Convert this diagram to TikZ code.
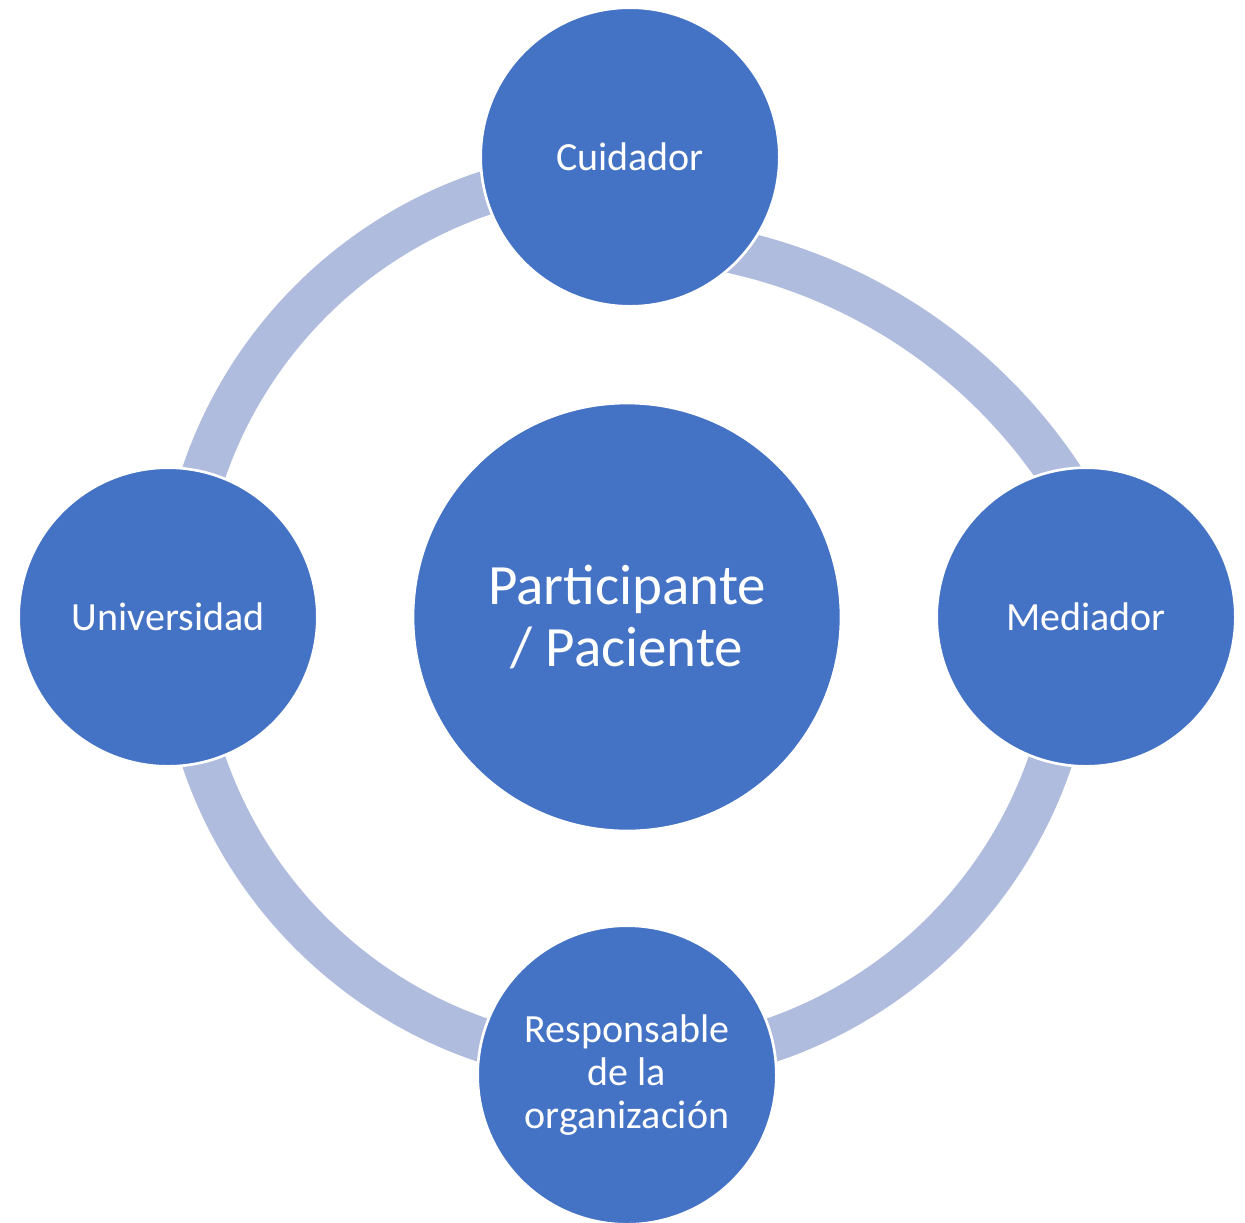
\documentclass[tikz,border=0pt]{standalone}
\usepackage{fontspec}
\setmainfont{Carlito}
\definecolor{nodeblue}{HTML}{4472C4}
\definecolor{ringblue}{HTML}{B0BCDE}
\begin{document}
\begin{tikzpicture}[x=0.75pt,y=-0.75pt,
  disc/.style={circle, fill=nodeblue, draw=white, line width=2pt, text=white,
    inner sep=0pt, align=center},
  outerdisc/.style={disc, minimum size=224pt,
    font=\fontsize{30}{32}\selectfont},
  hubdisc/.style={disc, minimum size=321pt,
    font=\fontsize{42.75}{46.5}\selectfont},
  ring/.style={draw=ringblue, line width=33pt}]
\useasboundingbox (0,0) rectangle (1245,1222);
\coordinate (ringc) at (627,617);
\coordinate (trc) at (617.4,771.8);
% connecting arcs (drawn below the discs)
\draw[ring] ([shift={(180:335.25pt)}]ringc) arc[start angle=180, end angle=90, radius=335.25pt];
\draw[ring] ([shift={(180:335.25pt)}]ringc) arc[start angle=180, end angle=270, radius=335.25pt];
\draw[ring] ([shift={(270:335.25pt)}]ringc) arc[start angle=270, end angle=360, radius=335.25pt];
\draw[ring] ([shift={(80:399.75pt)}]trc) arc[start angle=80, end angle=30, radius=399.75pt];
% discs
\node[hubdisc] (hub) at (ringc) {Participante\\/ Paciente};
\node[outerdisc] (cuid) at (630,157) {Cuidador};
\node[outerdisc] (med) at (1086,617) {Mediador};
\node[outerdisc] (univ) at (168,617) {Universidad};
\node[outerdisc] (resp) at (627,1075) {Responsable\\de la\\organización};
\end{tikzpicture}
\end{document}
